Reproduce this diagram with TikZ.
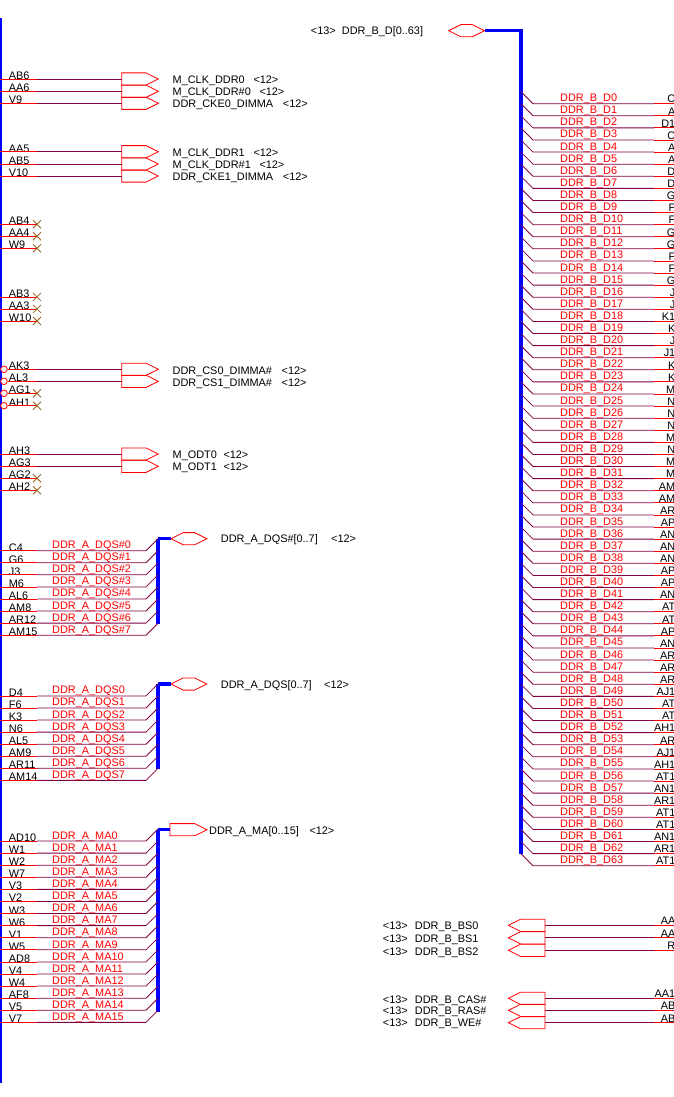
\documentclass[tikz,border=0pt]{standalone}
\usepackage{fontspec}
\setmainfont{Liberation Sans}
\usepackage{tikz}
\usetikzlibrary{shapes.symbols}
\definecolor{netcol}{HTML}{800040}
\definecolor{nccol}{HTML}{996020}
\tikzset{
  pintext/.style={anchor=base west,inner sep=0pt,font=\fontsize{10.9}{12}\selectfont},
  pinright/.style={anchor=base east,inner sep=0pt,font=\fontsize{10.9}{12}\selectfont},
  nettext/.style={anchor=base west,inner sep=0pt,text=red,font=\fontsize{10.9}{12}\selectfont},
  pinwire/.style={red,line width=0.8pt},
  netwire/.style={netcol,line width=0.8pt},
  buswire/.style={blue,line width=3.4pt},
  portbox/.style={signal,draw=red,line width=0.8pt,inner sep=0pt,outer sep=0pt,minimum height=12.2pt,signal pointer angle=53},
  outport/.style={portbox,signal to=east,minimum width=36.6pt},
  inport/.style={portbox,signal to=west,minimum width=36.6pt},
  bothport/.style={portbox,signal to=west and east,minimum width=35.8pt},
  ncmark/.style={nccol,line width=0.8pt},
  bubble/.style={circle,draw=red,fill=white,line width=0.8pt,inner sep=0pt,minimum size=6.6pt}
}
\begin{document}
\begin{tikzpicture}[x=1pt,y=-1pt]
\useasboundingbox (0,0) rectangle (674,1097);
\clip (0,0) rectangle (674,1097);
% left edge of the part
\draw[buswire] (0,18) -- (0,1083);
% pins with a net going out
\foreach \pin/\y/\net/\texty/\tagx in {
  AB6/79/M\_CLK\_DDR0/83.2/253.3,
  AA6/91.3/M\_CLK\_DDR\#0/95.2/259.3,
  V9/103.3/DDR\_CKE0\_DIMMA/107.7/282.7,
  AA5/151.7/M\_CLK\_DDR1/156/253.3,
  AB5/164/M\_CLK\_DDR\#1/168/259.3,
  V10/176/DDR\_CKE1\_DIMMA/180/282.7,
  AH3/454/M\_ODT0/458.5/223.3,
  AG3/466.3/M\_ODT1/470.8/223.3}{
  \node[pintext] (pin\pin) at (8.7,\y+0.5) {\pin};
  \coordinate (e\pin) at (0,\y);
  \coordinate (m\pin) at (37,\y);
  \node[outport,anchor=west] (port\pin) at (121.7,\y) {};
  \draw[pinwire] (e\pin) -- (m\pin);
  \draw[netwire] (m\pin) -- (port\pin.west);
  \node[pintext] (name\pin) at (172.5,\texty) {\net};
  \node[pintext] (tag\pin) at (\tagx,\texty) {<12>};
}
% chip selects, active low
\foreach \pin/\y/\net/\texty in {
  AK3/369.3/DDR\_CS0\_DIMMA\#/374.5,
  AL3/381.3/DDR\_CS1\_DIMMA\#/386.5}{
  \node[pintext] (pin\pin) at (8.7,\y+0.5) {\pin};
  \node[bubble] (inv\pin) at (4,\y) {};
  \coordinate (m\pin) at (37,\y);
  \node[outport,anchor=west] (port\pin) at (121.7,\y) {};
  \draw[pinwire] (inv\pin) -- (m\pin);
  \draw[netwire] (m\pin) -- (port\pin.west);
  \node[pintext] (name\pin) at (172.5,\texty) {\net};
  \node[pintext] (tag\pin) at (281.5,\texty) {<12>};
}
% pins left open
\foreach \pin/\y in {AB4/224.3,AA4/236.3,W9/248.3,AB3/296.9,AA3/308.9,W10/321,AG2/478.3,AH2/490.3}{
  \node[pintext] (pin\pin) at (8.7,\y+0.5) {\pin};
  \coordinate (e\pin) at (0,\y);
  \coordinate (m\pin) at (37,\y);
  \draw[pinwire] (e\pin) -- (m\pin);
  \draw[ncmark] (33,\y-4) -- (41,\y+4) (33,\y+4) -- (41,\y-4);
}
\foreach \pin/\y in {AG1/393.3,AH1/405.7}{
  \node[pintext] (pin\pin) at (8.7,\y+0.5) {\pin};
  \node[bubble] (inv\pin) at (4,\y) {};
  \coordinate (m\pin) at (37,\y);
  \draw[pinwire] (inv\pin) -- (m\pin);
  \draw[ncmark] (33,\y-4) -- (41,\y+4) (33,\y+4) -- (41,\y-4);
}
% DQS# bus
\draw[buswire] (158,538.7) -- (158,624);
\node[bothport,anchor=west] (dqsnport) at (171,538.7) {};
\draw[buswire] (158,538.7) -- (dqsnport.west);
\node[pintext] (dqsnname) at (220.7,542.8) {DDR\_A\_DQS\#[0..7]};
\node[pintext] (dqsntag) at (331,542.8) {<12>};
\foreach \i/\pin in {0/C4,1/G6,2/J3,3/M6,4/AL6,5/AM8,6/AR12,7/AM15}{
  \pgfmathsetmacro{\y}{550.7+12.07*\i}
  \node[pintext] (pinq\i) at (8.7,\y+0.5) {\pin};
  \node[nettext] (netq\i) at (52,\y-2) {DDR\_A\_DQS\#\i};
  \draw[pinwire] (0,\y) -- (37,\y);
  \draw[netwire] (37,\y) -- (146,\y) -- (158,\y-12);
}
% DQS bus
\draw[buswire] (158,684) -- (158,769.2);
\node[bothport,anchor=west] (dqsport) at (171,684) {};
\draw[buswire] (158,684) -- (dqsport.west);
\node[pintext] (dqsname) at (220.7,688.2) {DDR\_A\_DQS[0..7]};
\node[pintext] (dqstag) at (324,688.2) {<12>};
\foreach \i/\pin in {0/D4,1/F6,2/K3,3/N6,4/AL5,5/AM9,6/AR11,7/AM14}{
  \pgfmathsetmacro{\y}{695.9+12.07*\i}
  \node[pintext] (pins\i) at (8.7,\y+0.5) {\pin};
  \node[nettext] (nets\i) at (52,\y-2) {DDR\_A\_DQS\i};
  \draw[pinwire] (0,\y) -- (37,\y);
  \draw[netwire] (37,\y) -- (146,\y) -- (158,\y-12);
}
% address bus
\draw[buswire] (158,829.7) -- (158,1011.7);
\node[outport,anchor=west,minimum width=37pt] (maport) at (170,829.7) {};
\draw[buswire] (158,829.7) -- (maport.west);
\node[pintext] (maname) at (209,834.2) {DDR\_A\_MA[0..15]};
\node[pintext] (matag) at (309.3,834.2) {<12>};
\foreach \i/\pin in {0/AD10,1/W1,2/W2,3/W7,4/V3,5/V2,6/W3,7/W6,8/V1,9/W5,10/AD8,11/V4,12/W4,13/AF8,14/V5,15/V7}{
  \pgfmathsetmacro{\y}{841+12.09*\i}
  \node[pintext] (pina\i) at (8.7,\y+0.5) {\pin};
  \node[nettext] (neta\i) at (52,\y-1.8) {DDR\_A\_MA\i};
  \draw[pinwire] (0,\y) -- (37,\y);
  \draw[netwire] (37,\y) -- (146,\y) -- (158,\y-12);
}
% data bus of channel B
\node[bothport,anchor=east] (dport) at (484.5,30.7) {};
\node[pintext] (dtag) at (310.7,35) {<13>};
\node[pintext] (dname) at (341.7,35) {DDR\_B\_D[0..63]};
\coordinate (dtop) at (521,30.7);
\coordinate (dend) at (521,854);
\draw[buswire] (dport.east) -- (dtop) -- (dend);
\foreach \i/\pin in {0/C,1/A,2/D1,3/C,4/A,5/A,6/D,7/D,8/G,9/F,10/F,11/G,12/G,13/F,14/F,15/G,
  16/J,17/J,18/K1,19/K,20/J,21/J1,22/K,23/K,24/M,25/N,26/N,27/N,28/M,29/N,30/M,31/M,
  32/AM,33/AM,34/AR,35/AP,36/AN,37/AN,38/AN,39/AP,40/AP,41/AN,42/AT,43/AT,44/AP,45/AN,46/AR,47/AR,
  48/AR,49/AJ1,50/AT,51/AT,52/AH1,53/AR,54/AJ1,55/AH1,56/AT1,57/AN1,58/AR1,59/AT1,60/AT1,61/AN1,62/AR1,63/AT1}{
  \pgfmathsetmacro{\y}{103.7+12.095*\i}
  \node[nettext] (netb\i) at (560,\y-2) {DDR\_B\_D\i};
  \node[pinright] (pinb\i) at (675.5,\y-0.7) {\pin};
  \draw[netwire] (521,\y-12) -- (533,\y) -- (654,\y);
  \draw[pinwire] (654,\y) -- (674,\y);
}
% bank and command inputs of channel B
\foreach \pin/\y/\net/\texty [count=\k] in {
  AA/925.3/BS0/929.7,
  AA/937.8/BS1/942,
  R/950.3/BS2/955,
  AA1/998.3/CAS\#/1003.3,
  AB/1010.3/RAS\#/1014.7,
  AB/1022.7/WE\#/1026.7}{
  \node[inport,anchor=east] (cport\k) at (545,\y) {};
  \coordinate (m\k) at (654,\y);
  \coordinate (e\k) at (674,\y);
  \draw[netwire] (cport\k.east) -- (m\k);
  \draw[pinwire] (m\k) -- (e\k);
  \node[pinright] (cpin\k) at (675.5,\y-0.7) {\pin};
  \node[pintext] (ctag\k) at (382.7,\texty) {<13>};
  \node[pintext] (cname\k) at (414.7,\texty) {DDR\_B\_\net};
}
\end{tikzpicture}
\end{document}
